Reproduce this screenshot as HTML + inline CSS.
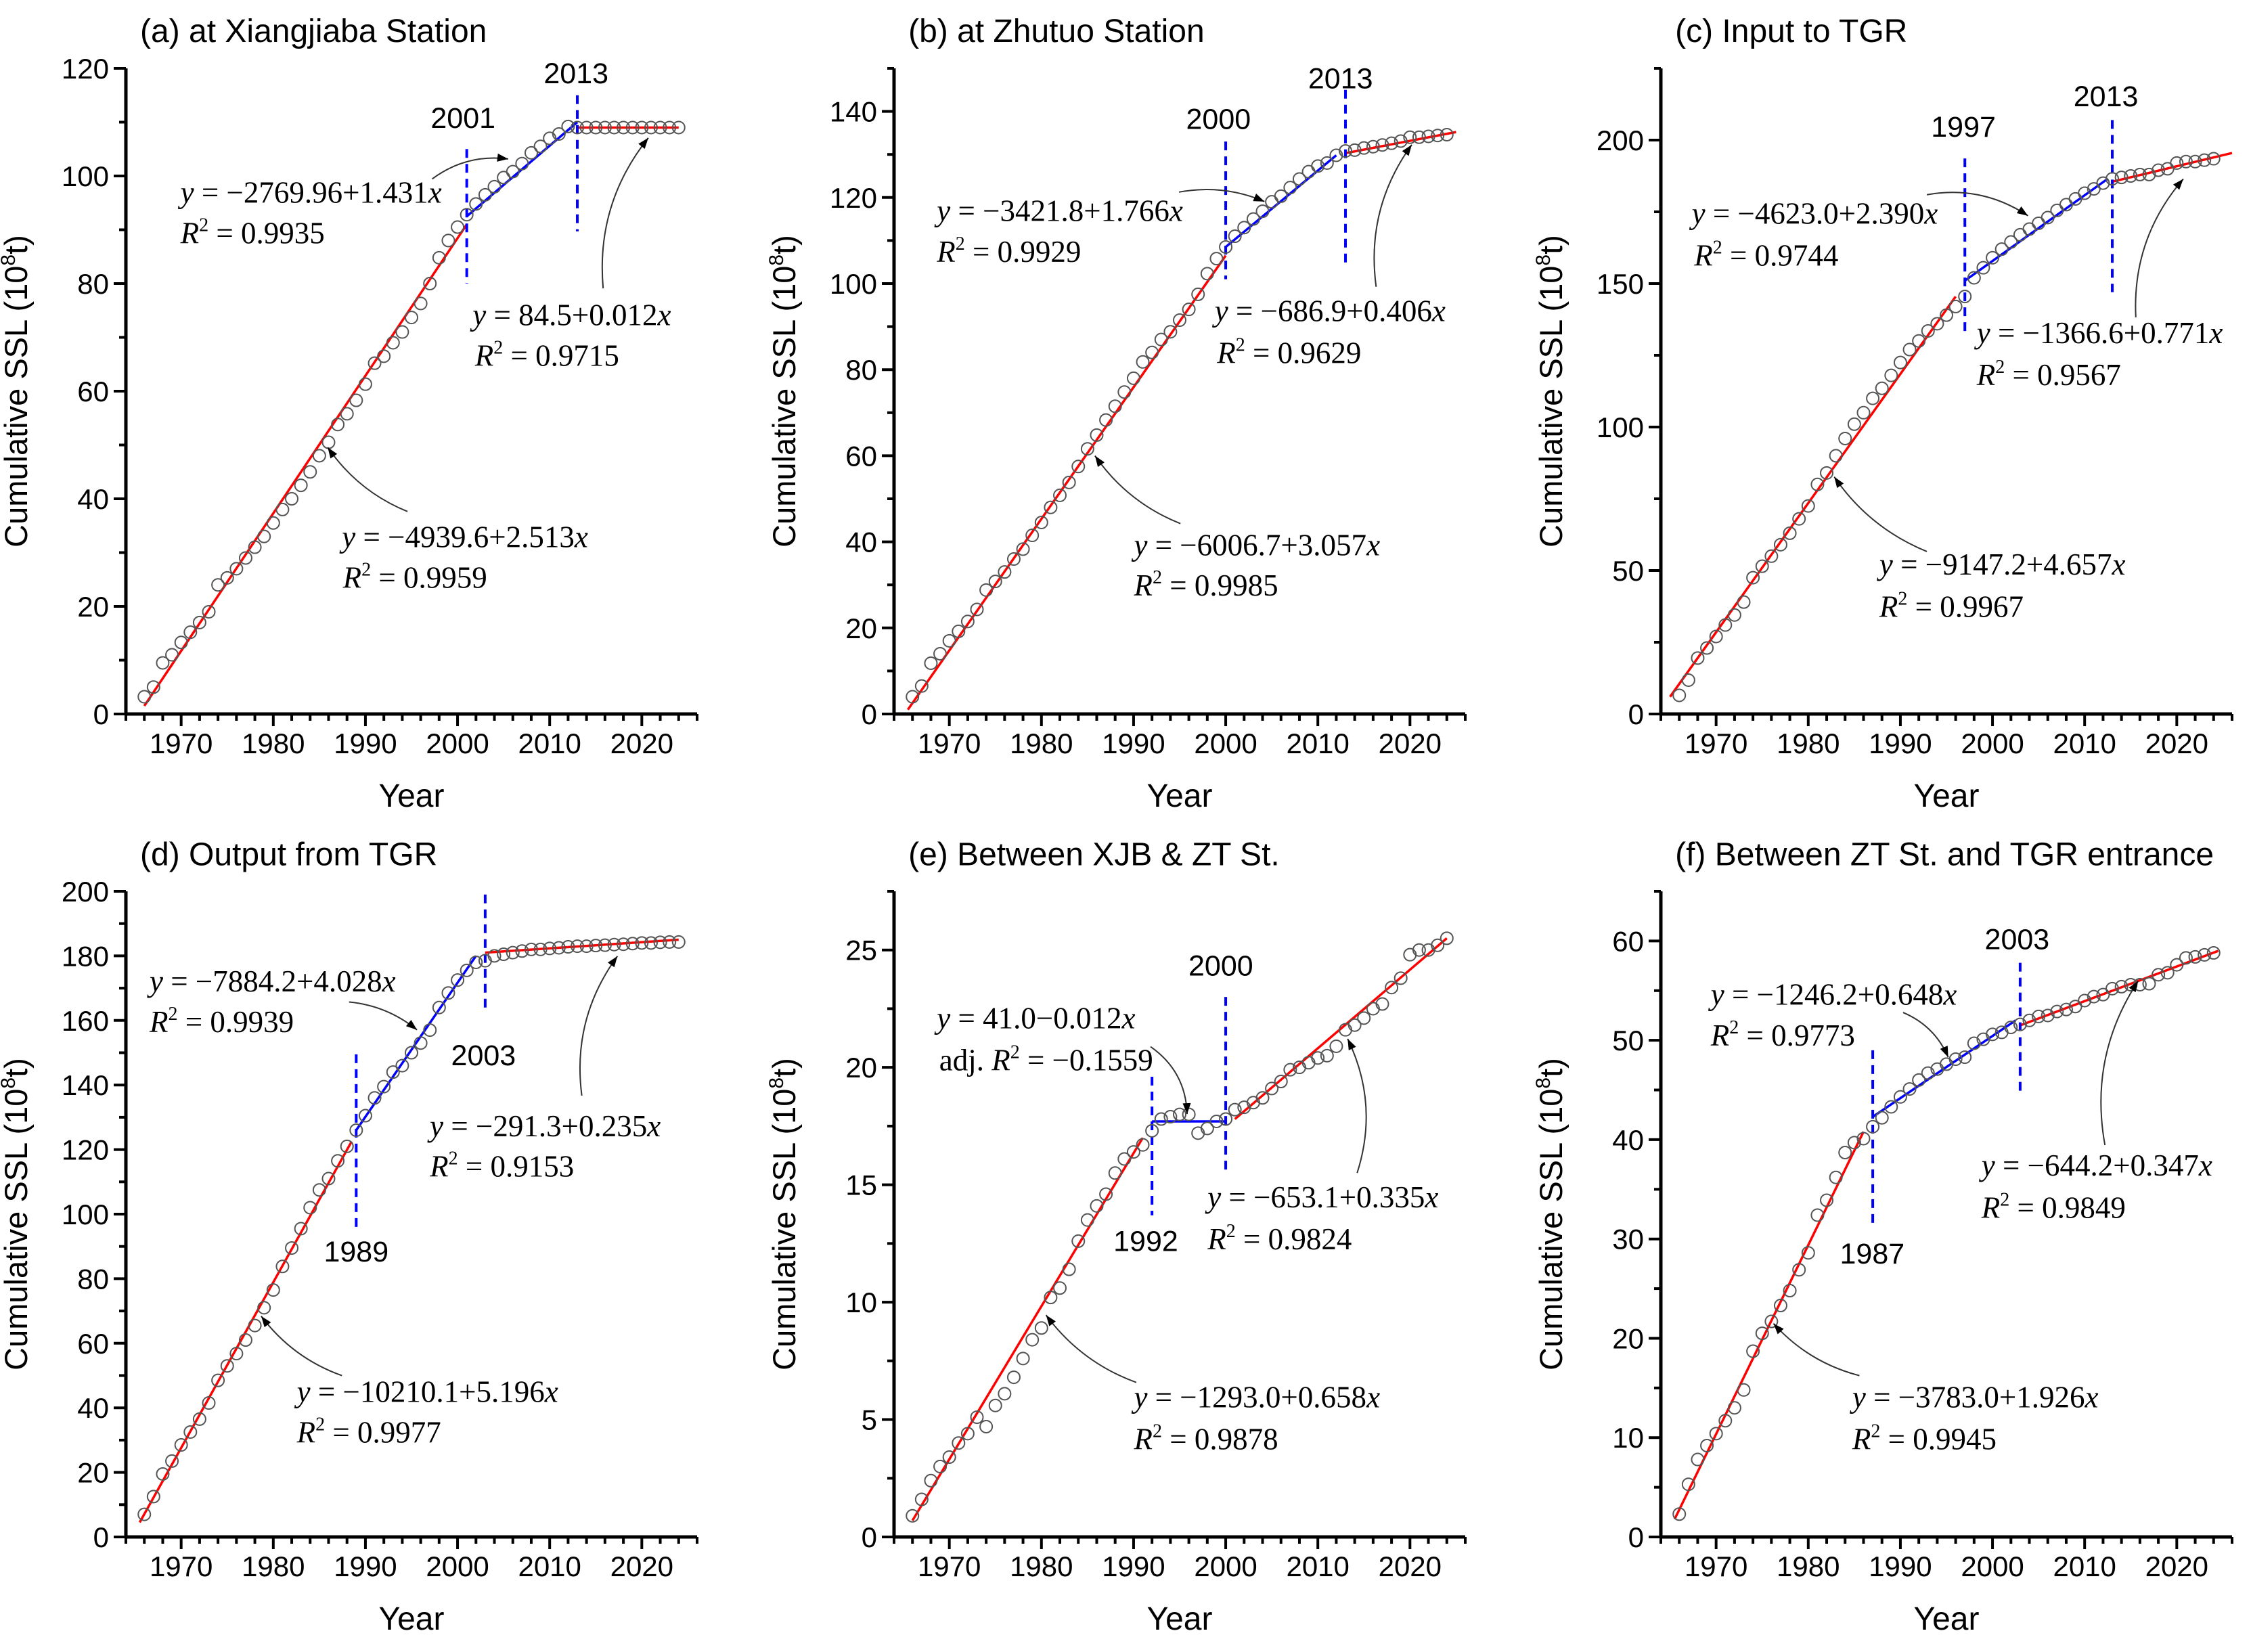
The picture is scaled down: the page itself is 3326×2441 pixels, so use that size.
<!DOCTYPE html>
<html><head><meta charset="utf-8"><title>Cumulative SSL double-mass curves</title>
<style>
html,body{margin:0;padding:0;background:#fff;}
svg{display:block;}
text{font-family:"Liberation Sans",Arial,sans-serif;fill:#000;}
.eq{font-family:"Liberation Serif","Times New Roman",serif;font-size:45px;}
</style></head>
<body>
<svg id="chart" width="3326" height="2441" viewBox="0 0 3326 2441" xmlns="http://www.w3.org/2000/svg"></svg>
<script>
// ---------- data ----------
const years = [1966,1967,1968,1969,1970,1971,1972,1973,1974,1975,
1976,1977,1978,1979,1980,1981,1982,1983,1984,1985,
1986,1987,1988,1989,1990,1991,1992,1993,1994,1995,
1996,1997,1998,1999,2000,2001,2002,2003,2004,2005,
2006,2007,2008,2009,2010,2011,2012,2013,2014,2015,
2016,2017,2018,2019,2020,2021,2022,2023,2024];

const valsA = [3.2,5,9.5,11,13.3,15.2,17,19,24,25.3,
27,29,31,33,35.5,38,40,42.5,45,48,
50.5,53.8,55.8,58.3,61.3,65.2,66.5,69,71,73.7,
76.3,80,84.8,88,90.5,92.8,94.8,96.5,98,99.7,
100.8,102.3,104.3,105.5,107,107.8,109.2,109,109,109,
109,109,109,109,109,109,109,109,109];
const valsB = [4,6.5,11.8,14,17,19.2,21.5,24.3,28.8,30.8,
33,36,38.3,41.5,44.5,48,50.8,53.8,57.5,61.6,
64.8,68.3,71.5,74.8,78,81.8,84,87,88.8,91.5,
94,97.5,102.3,105.8,108.5,111,113,115,116.8,119,
120.3,122.3,124.3,126,127.3,128,129.8,130.8,131,131.5,
131.8,132.2,132.6,133.1,134,134,134.2,134.4,134.6];
const valsC = [6.5,11.8,19.5,23,27,31,34.5,39,47.5,51.5,
55,59,63,68,72.5,80,84,90,96,101,
105,110,113.5,118,122.5,127,130,133.5,136,139,
142,145.5,152,155.5,159,162,164.5,167,169,171,
173,175.5,177.5,179.5,181.5,183,185,186.5,187,187.5,
188,188,189.5,190,192,192.5,192.5,193,193.5];
const valsD = [7,12.5,19.5,23.5,28.5,32.5,36.5,41.5,48.5,53,
56.8,61,65.5,71,76.5,83.8,89.5,95.5,102,107.5,
111,116.5,121,126,130.5,136,139.5,144,146,150,
153,157,164,168.5,172.5,175.5,178,178.5,180,180.5,
181,181.5,182,182,182.3,182.5,182.8,183,183,183.2,
183.3,183.5,183.6,183.8,184,184,184.2,184.3,184.3];
const valsE = [0.9,1.6,2.4,3,3.4,4,4.4,5.1,4.7,5.6,
6.1,6.8,7.6,8.4,8.9,10.2,10.6,11.4,12.6,13.5,
14.1,14.6,15.5,16.1,16.4,16.7,17.3,17.8,17.9,18,
18,17.2,17.4,17.7,17.8,18.2,18.3,18.5,18.7,19.1,
19.4,19.9,20,20.2,20.4,20.5,20.9,21.6,21.8,22.1,
22.5,22.7,23.4,23.8,24.8,25,25,25.2,25.5];
const valsF = [2.3,5.3,7.8,9.2,10.4,11.7,13,14.8,18.7,20.5,
21.7,23.3,24.8,26.9,28.6,32.4,33.9,36.2,38.7,39.7,
40.1,41.3,42.2,43.3,44.3,45.1,46,46.7,47.1,47.6,
48.1,48.3,49.7,50.1,50.6,50.8,51.3,51.6,52,52.4,
52.5,52.9,53.1,53.4,54,54.4,54.6,55.2,55.4,55.6,
55.6,55.7,56.6,56.8,57.6,58.3,58.4,58.6,58.8];

// fitted segments: [startYear, startValue, endYear, endValue, colour]
const fitsA = [[1966,1.5,2001,91,'#ff0000'],[2001,92.5,2013,110,'#0000ff'],[2013,109,2024,109,'#ff0000']];
const fitsB = [[1965.5,1,2000,106.5,'#ff0000'],[2000,108.5,2012,129.8,'#0000ff'],[2013,130.3,2025,135.2,'#ff0000']];
const fitsC = [[1965,6,1996,145.5,'#ff0000'],[1997,151,2012.5,186.5,'#0000ff'],[2013,185.5,2026,195.5,'#ff0000']];
const fitsD = [[1965.5,4.5,1988.5,122.5,'#ff0000'],[1989,126,2002,180,'#0000ff'],[2003,181,2024,185,'#ff0000']];
const fitsE = [[1966,0.7,1991,17,'#ff0000'],[1992,17.7,2000,17.7,'#0000ff'],[2001,17.8,2024,25.5,'#ff0000']];
const fitsF = [[1965.5,1.8,1986,40.8,'#ff0000'],[1987,42.3,2002.5,52,'#0000ff'],[2003,51.5,2024.5,59,'#ff0000']];

// break years: [year, topValue, bottomValue]
const breaksA = [[2001,105,80],[2013,115,89.7]];
const breaksB = [[2000,133,101],[2013,145,104.6]];
const breaksC = [[1997,193.6,133],[2013,207,147]];
const breaksD = [[1989,149.5,95],[2003,199,163]];
const breaksE = [[1992,19.6,13.7],[2000,23,15.5]];
const breaksF = [[1987,49,31.3],[2003,57.8,44.5]];

const yTicksA = [0,20,40,60,80,100,120];
const yTicksB = [0,20,40,60,80,100,120,140];
const yTicksC = [0,50,100,150,200];
const yTicksD = [0,20,40,60,80,100,120,140,160,180,200];
const yTicksE = [0,5,10,15,20,25];
const yTicksF = [0,10,20,30,40,50,60];
const xTickLabels = [1970,1980,1990,2000,2010,2020];

// ---------- layout ----------
const NS = 'http://www.w3.org/2000/svg';
const svg = document.getElementById('chart');
const XMIN = 1964, XMAX = 2026, PW = 844, PH = 954;
const SX = 1.425, SY = 1.286;

function mk(tag, attrs, parent) {
  const e = document.createElementNS(NS, tag);
  for (const k in attrs) e.setAttribute(k, attrs[k]);
  (parent || svg).appendChild(e);
  return e;
}

const eqY = (a) => '<tspan font-style="italic">y</tspan> = ' + a + '<tspan font-style="italic">x</tspan>';
const eqR = (r) => '<tspan font-style="italic">R</tspan><tspan font-size="28" dy="-18">2</tspan><tspan dy="18"> = ' + r + '</tspan>';
const eqAdj = (r) => 'adj. <tspan font-style="italic">R</tspan><tspan font-size="28" dy="-18">2</tspan><tspan dy="18"> = ' + r + '</tspan>';

const panels = [
 {id:'a', axL:186, axB:1055, ymax:120, ymaj:20, ymin:10, ox:0, oy:0, title:'(a) at Xiangjiaba Station', tx:295, ty:80,
  vals:valsA, fits:fitsA, breaks:breaksA, yTicks:yTicksA,
  blabels:[['2013',1213,158],['2001',975,243]],
  eqs:[[eqY('−2769.96+1.431'),380,385],[eqR('0.9935'),380,462],[eqY('84.5+0.012'),995,618],[eqR('0.9715'),1000,695],[eqY('−4939.6+2.513'),720,1040],[eqR('0.9959'),722,1117]],
  arrows:[[910,340,1070,302,-0.2],[1270,548,1365,262,-0.2],[858,972,690,850,-0.15]]},
 {id:'b', axL:1321, axB:1055, ymax:150, ymaj:20, ymin:10, ox:1100, oy:0, title:'(b) at Zhutuo Station', tx:345, ty:80,
  vals:valsB, fits:fitsB, breaks:breaksB, yTicks:yTicksB,
  blabels:[['2013',1255,168],['2000',998,245]],
  eqs:[[eqY('−3421.8+1.766'),405,420],[eqR('0.9929'),405,498],[eqY('−686.9+0.406'),990,610],[eqR('0.9629'),995,690],[eqY('−6006.7+3.057'),820,1055],[eqR('0.9985'),820,1132]],
  arrows:[[915,365,1095,383,-0.15],[1330,545,1405,275,-0.2],[918,995,738,866,-0.15]]},
 {id:'c', axL:2454, axB:1055, ymax:225, ymaj:50, ymin:25, ox:2226, oy:0, title:'(c) Input to TGR', tx:355, ty:80,
  vals:valsC, fits:fitsC, breaks:breaksC, yTicks:yTicksC,
  blabels:[['2013',1262,202],['1997',962,260]],
  eqs:[[eqY('−4623.0+2.390'),390,425],[eqR('0.9744'),395,505],[eqY('−1366.6+0.771'),990,652],[eqR('0.9567'),990,732],[eqY('−9147.2+4.657'),785,1092],[eqR('0.9967'),785,1172]],
  arrows:[[885,370,1098,410,-0.2],[1325,603,1425,340,-0.2],[885,1048,690,906,-0.15]]},
 {id:'d', axL:186, axB:2271, ymax:200, ymaj:20, ymin:10, ox:0, oy:1220, title:'(d) Output from TGR', tx:295, ty:75,
  vals:valsD, fits:fitsD, breaks:breaksD, yTicks:yTicksD,
  blabels:[['2003',1018,455],['1989',750,828]],
  eqs:[[eqY('−7884.2+4.028'),315,315],[eqR('0.9939'),315,392],[eqY('−291.3+0.235'),905,590],[eqR('0.9153'),905,667],[eqY('−10210.1+5.196'),625,1095],[eqR('0.9977'),625,1172]],
  arrows:[[735,335,878,388,-0.15],[1225,513,1300,248,-0.2],[720,1045,550,932,-0.15]]},
 {id:'e', axL:1321, axB:2271, ymax:27.5, ymaj:5, ymin:2.5, ox:1100, oy:1220, title:'(e) Between XJB & ZT St.', tx:345, ty:75,
  vals:valsE, fits:fitsE, breaks:breaksE, yTicks:yTicksE,
  blabels:[['2000',1003,285],['1992',845,808]],
  eqs:[[eqY('41.0−0.012'),405,385],[eqAdj('−0.1559'),410,465],[eqY('−653.1+0.335'),975,725],[eqR('0.9824'),975,805],[eqY('−1293.0+0.658'),820,1105],[eqR('0.9878'),820,1185]],
  arrows:[[855,420,932,548,-0.25],[1290,660,1270,405,0.2],[825,1058,635,930,-0.15]]},
 {id:'f', axL:2454, axB:2271, ymax:65, ymaj:10, ymin:5, ox:2226, oy:1220, title:'(f) Between ZT St. and TGR entrance', tx:355, ty:75,
  vals:valsF, fits:fitsF, breaks:breaksF, yTicks:yTicksF,
  blabels:[['2003',1075,235],['1987',770,832]],
  eqs:[[eqY('−1246.2+0.648'),430,340],[eqR('0.9773'),430,418],[eqY('−644.2+0.347'),1000,665],[eqR('0.9849'),1000,745],[eqY('−3783.0+1.926'),728,1105],[eqR('0.9945'),728,1185]],
  arrows:[[835,355,930,440,-0.2],[1260,607,1330,295,-0.2],[743,1045,562,946,-0.15]]}
];

panels.forEach(p => {
  const top = p.axB - PH;
  const xs = (yr) => p.axL + (yr - XMIN) / (XMAX - XMIN) * PW;
  const ys = (v) => p.axB - v / p.ymax * PH;
  const px = (x) => p.ox + x / SX;
  const py = (y) => p.oy + y / SY;

  const g = mk('g', {});
  
  

  const title = mk('text', {x: px(p.tx), y: py(p.ty), 'font-size': 48}, g);
  title.textContent = p.title;
  
  

  for (let i = 0; p.ymin * i <= p.ymax + 1e-9; i++) {
    const v = p.ymin * i;
    const major = Math.abs(v / p.ymaj - Math.round(v / p.ymaj)) < 1e-9;
    const t = mk('line', {x1: p.axL - (major ? 18 : 10), x2: p.axL, y1: ys(v), y2: ys(v), stroke: '#000', 'stroke-width': 4}, g);
    
    
  }
  p.yTicks.forEach(v => {
    const l = mk('text', {x: p.axL - 25, y: ys(v) + 15, 'font-size': 42, 'text-anchor': 'end'}, g);
    l.textContent = String(v);
    
    
  });
  for (let yr = XMIN; yr <= XMAX; yr += 2) {
    const major = yr % 10 === 0;
    const t = mk('line', {x1: xs(yr), x2: xs(yr), y1: p.axB, y2: p.axB + (major ? 18 : 10), stroke: '#000', 'stroke-width': 4}, g);
    
    
  }
  xTickLabels.forEach(yr => {
    const l = mk('text', {x: xs(yr), y: p.axB + 58, 'font-size': 42, 'text-anchor': 'middle'}, g);
    l.textContent = String(yr);
    
    
  });
  const ya = mk('line', {x1: p.axL, x2: p.axL, y1: top, y2: p.axB + 2, stroke: '#000', 'stroke-width': 5}, g);
  
  
  const xa = mk('line', {x1: p.axL - 2, x2: p.axL + PW, y1: p.axB, y2: p.axB, stroke: '#000', 'stroke-width': 5}, g);
  
  

  const xt = mk('text', {x: p.axL + PW / 2, y: p.axB + 137, 'font-size': 48, 'text-anchor': 'middle'}, g);
  xt.textContent = 'Year';
  
  
  const ytx = p.axL - 146, yty = top + PH / 2;
  const yt = mk('text', {x: ytx, y: yty, 'font-size': 47, 'text-anchor': 'middle', transform: 'rotate(-90 ' + ytx + ' ' + yty + ')'}, g);
  yt.innerHTML = 'Cumulative SSL (10<tspan font-size="30" dy="-18">8</tspan><tspan dy="18">t)</tspan>';
  
  

  p.fits.forEach(f => {
    const l = mk('line', {x1: xs(f[0]), y1: ys(f[1]), x2: xs(f[2]), y2: ys(f[3]), stroke: f[4], 'stroke-width': 3.5}, g);
    
    
  });
  p.breaks.forEach(b => {
    const l = mk('line', {x1: xs(b[0]), x2: xs(b[0]), y1: ys(b[1]), y2: ys(b[2]), stroke: '#0000ff', 'stroke-width': 4, 'stroke-dasharray': '13 9'}, g);
    
    
  });
  p.blabels.forEach(b => {
    const l = mk('text', {x: px(b[1]), y: py(b[2]), 'font-size': 43, 'text-anchor': 'middle'}, g);
    l.textContent = b[0];
    
    
  });
  p.vals.forEach((v, i) => {
    const c = mk('circle', {cx: xs(years[i]), cy: ys(v), r: 9, fill: 'none', stroke: '#555', 'stroke-width': 2}, g);
    
    
  });
  p.eqs.forEach(e => {
    const t = mk('text', {x: px(e[1]), y: py(e[2]), class: 'eq'}, g);
    t.innerHTML = e[0];
    
    
  });
  p.arrows.forEach(a => {
    const x1 = px(a[0]), y1 = py(a[1]), x2 = px(a[2]), y2 = py(a[3]);
    const mx = (x1 + x2) / 2, my = (y1 + y2) / 2, dx = x2 - x1, dy = y2 - y1;
    const cx = mx - dy * a[4], cy = my + dx * a[4];
    const path = mk('path', {d: `M${x1},${y1} Q${cx},${cy} ${x2},${y2}`, fill: 'none', stroke: '#333', 'stroke-width': 2}, g);
    
    
    const ang = Math.atan2(y2 - cy, x2 - cx);
    const L = 16, W = 6;
    const bx = x2 - L * Math.cos(ang), by = y2 - L * Math.sin(ang);
    const head = mk('polygon', {points: `${x2},${y2} ${bx - W * Math.sin(ang)},${by + W * Math.cos(ang)} ${bx + W * Math.sin(ang)},${by - W * Math.cos(ang)}`, fill: '#000'}, g);
    
    
  });
});
</script>
</body></html>
